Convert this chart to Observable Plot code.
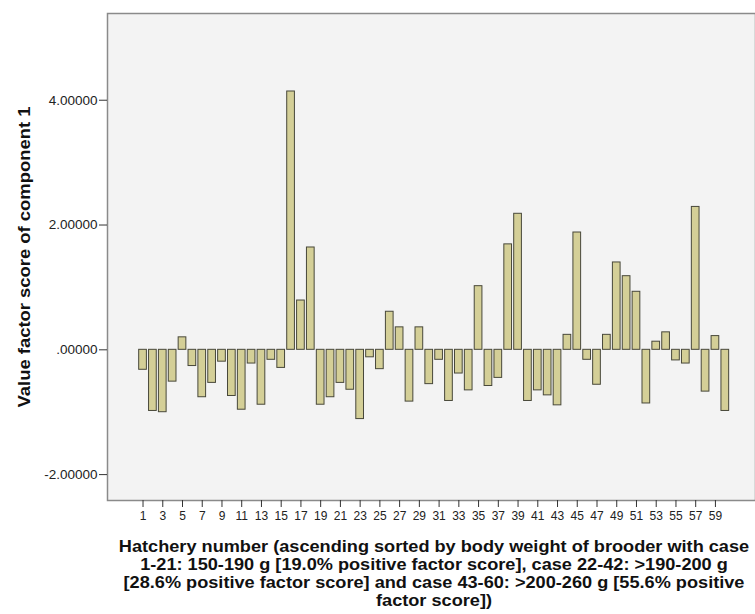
<!DOCTYPE html>
<html>
<head>
<meta charset="utf-8">
<script src="https://cdn.jsdelivr.net/npm/d3@7"></script>
<script src="https://cdn.jsdelivr.net/npm/@observablehq/plot@0.6"></script>
<style>
  body { margin: 0; background: #ffffff; }
  #wrap { position: relative; width: 755px; height: 614px; overflow: hidden; }
  #xtitle {
    position: absolute; left: 114px; width: 640px; top: 537px;
    font-family: "Liberation Sans", Arial, sans-serif; font-weight: bold;
    font-size: 16.5px; line-height: 18px; text-align: center; color: #111;
    white-space: nowrap;
    transform: scaleX(1.10); transform-origin: 320px 0;
  }
</style>
</head>
<body>
<div id="wrap"></div>
<script>
const cases = d3.range(1, 61);
const scores = [
  -0.32, -0.98, -1.00, -0.51, 0.20, -0.26, -0.76, -0.53, -0.19, -0.74,
  -0.96, -0.22, -0.88, -0.16, -0.29, 4.14, 0.79, 1.64, -0.88, -0.76,
  -0.53, -0.64, -1.11, -0.12, -0.31, 0.61, 0.36, -0.83, 0.36, -0.55,
  -0.16, -0.82, -0.38, -0.65, 1.02, -0.58, -0.45, 1.69, 2.18, -0.82,
  -0.65, -0.73, -0.89, 0.24, 1.88, -0.16, -0.56, 0.24, 1.40, 1.18,
  0.93, -0.86, 0.13, 0.28, -0.17, -0.22, 2.29, -0.67, 0.22, -0.98
];
const xTicks = d3.range(1, 60, 2);
const yTicks = [-2, 0, 2, 4];
const yTitle = "Value factor score of component 1";
const xTitleLines = [
  "Hatchery number (ascending sorted by body weight of brooder with case",
  "1-21: 150-190 g [19.0% positive factor score], case 22-42: >190-200 g",
  "[28.6% positive factor score] and case 43-60: >200-260 g [55.6% positive",
  "factor score])"
];

const data = cases.map((c, i) => ({case: c, score: scores[i]}));
const half = 0.39;

const chart = Plot.plot({
  width: 755,
  height: 525,
  marginLeft: 107,
  marginRight: 0,
  marginTop: 13,
  marginBottom: 25,
  style: {fontFamily: "'Liberation Sans', Arial, sans-serif", fontSize: "12px", color: "#222", background: "#ffffff"},
  x: {type: "linear", domain: [-2.6, 63.06]},
  y: {domain: [-2.415, 5.39]},
  marks: [
    Plot.frame({fill: "#f3f3f3", stroke: "#8a8a8a", strokeWidth: 1.5}),
    Plot.rectY(data, {
      x1: d => d.case - half,
      x2: d => d.case + half,
      y1: 0,
      y2: "score",
      fill: "#d4cf97",
      stroke: "#48483a",
      strokeWidth: 1
    }),
    Plot.axisY({ticks: yTicks, tickFormat: d => d === 0 ? ".00000" : d.toFixed(5), tickSize: 8, tickPadding: 2, line: true, stroke: "#333", label: null, fontSize: 13.5}),
    Plot.axisX({ticks: xTicks, tickFormat: d => String(d), tickSize: 7, tickPadding: 4, line: true, stroke: "#333", label: null, fontSize: 12}),
    Plot.text([yTitle], {frameAnchor: "left", dx: -83, rotate: -90, textAnchor: "middle", fontWeight: "bold", fontSize: 16, fill: "#111", className: "ytitle"})
  ]
});

d3.select(chart).selectAll(".ytitle text")
  .attr("textLength", 301)
  .attr("lengthAdjust", "spacingAndGlyphs");

const wrap = document.getElementById("wrap");
wrap.appendChild(chart);
const t = document.createElement("div");
t.id = "xtitle";
t.innerHTML = xTitleLines.map(s => s.replace(/&/g, "&amp;").replace(/</g, "&lt;").replace(/>/g, "&gt;")).join("<br>");
wrap.appendChild(t);
</script>
</body>
</html>
